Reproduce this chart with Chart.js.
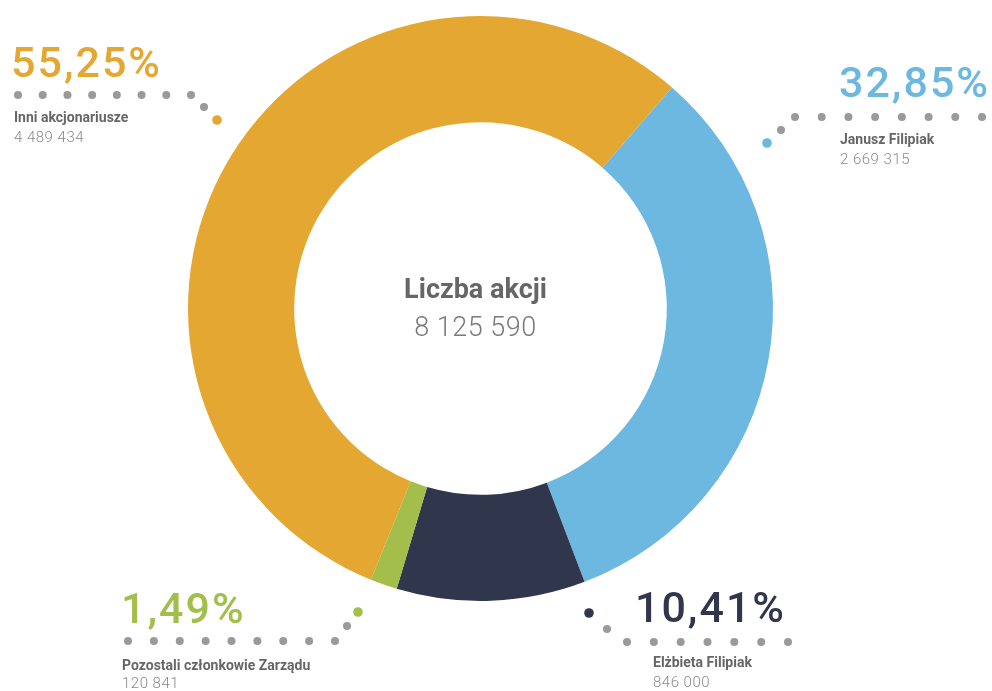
<!DOCTYPE html>
<html>
<head>
<meta charset="utf-8">
<script src="https://cdn.jsdelivr.net/npm/chart.js@4"></script>
<style>
  html, body { margin: 0; padding: 0; background: #fff; }
  #wrap { width: 992px; height: 691px; }
</style>
</head>
<body>
<div id="wrap"><canvas id="donut" width="992" height="691"></canvas></div>
<script>
const names = ['Janusz Filipiak', 'Elżbieta Filipiak', 'Pozostali członkowie Zarządu', 'Inni akcjonariusze'];
const shares = [2669315, 846000, 120841, 4489434];
const colors = ['#6cb8e0', '#30364b', '#a3be4b', '#e4a731'];

const total = shares.reduce((a, b) => a + b, 0);
const fmt = n => String(n).replace(/\B(?=(\d{3})+(?!\d))/g, ' ');
const pct = n => (n / total * 100).toFixed(2).replace('.', ',') + '%';

// label placement: text anchor, dotted leader (row of dots + bend to coloured dot)
const callouts = [
  { x: 988, align: 'right', pctY: 97, nameX: 840, nameY: 144, valY: 164,
    row: [795, 982, 117, 8], bend: [[781, 130]], end: [767, 143] },
  { x: 784, align: 'right', pctY: 622, nameX: 653, nameY: 667, valY: 687,
    row: [627, 788, 642, 7], bend: [[607, 629]], end: [589, 613] },
  { x: 121, align: 'left', pctY: 623, nameX: 122, nameY: 670, valY: 688,
    row: [128, 335, 641, 9], bend: [[347, 626]], end: [358, 612] },
  { x: 11, align: 'left', pctY: 77, nameX: 14, nameY: 122, valY: 142,
    row: [18, 191, 95, 8], bend: [[204, 107]], end: [217, 120] }
];

const calloutPlugin = {
  id: 'callouts',
  afterDraw(chart) {
    const ctx = chart.ctx;
    ctx.save();
    callouts.forEach((c, i) => {
      ctx.fillStyle = colors[i];
      ctx.font = '500 43px Roboto';
      ctx.textAlign = c.align;
      ctx.textBaseline = 'alphabetic';
      ctx.letterSpacing = '2px';
      ctx.fillText(pct(shares[i]), c.x + (c.align === 'right' ? 2 : 0), c.pctY);
      ctx.letterSpacing = '0px';

      ctx.textAlign = 'left';
      ctx.fillStyle = '#666';
      ctx.font = '700 14px Roboto';
      ctx.fillText(names[i], c.nameX, c.nameY);
      ctx.fillStyle = '#8a8a8a';
      ctx.font = '300 15px Roboto';
      ctx.letterSpacing = '0.5px';
      ctx.fillText(fmt(shares[i]), c.nameX, c.valY);
      ctx.letterSpacing = '0px';

      ctx.fillStyle = '#9a9a9a';
      const [x0, x1, y, n] = c.row;
      for (let k = 0; k < n; k++) {
        const x = x0 + (x1 - x0) * k / (n - 1);
        ctx.beginPath(); ctx.arc(x, y, 4, 0, Math.PI * 2); ctx.fill();
      }
      c.bend.forEach(p => { ctx.beginPath(); ctx.arc(p[0], p[1], 4, 0, Math.PI * 2); ctx.fill(); });
      ctx.fillStyle = colors[i];
      ctx.beginPath(); ctx.arc(c.end[0], c.end[1], 4.8, 0, Math.PI * 2); ctx.fill();
    });

    const arc = chart.getDatasetMeta(0).data[0];
    const cx = arc.x - 5, cy = arc.y;
    ctx.textAlign = 'center';
    ctx.fillStyle = '#666';
    ctx.font = '700 27px Roboto';
    ctx.fillText('Liczba akcji', cx, cy - 11);
    ctx.fillStyle = '#7a7a7a';
    ctx.font = '300 27px Roboto';
    ctx.letterSpacing = '0.5px';
    ctx.fillText(fmt(total), cx, cy + 27);
    ctx.restore();
  }
};

new Chart(document.getElementById('donut').getContext('2d'), {
  type: 'doughnut',
  data: {
    labels: names,
    datasets: [{
      data: shares,
      backgroundColor: colors,
      borderWidth: 0
    }]
  },
  options: {
    responsive: false,
    animation: false,
    cutout: '63.7%',
    rotation: 40.9,
    layout: { padding: { top: 16, bottom: 90, left: 188, right: 219 } },
    plugins: {
      legend: { display: false },
      tooltip: { enabled: false }
    }
  },
  plugins: [calloutPlugin]
});
</script>
</body>
</html>
